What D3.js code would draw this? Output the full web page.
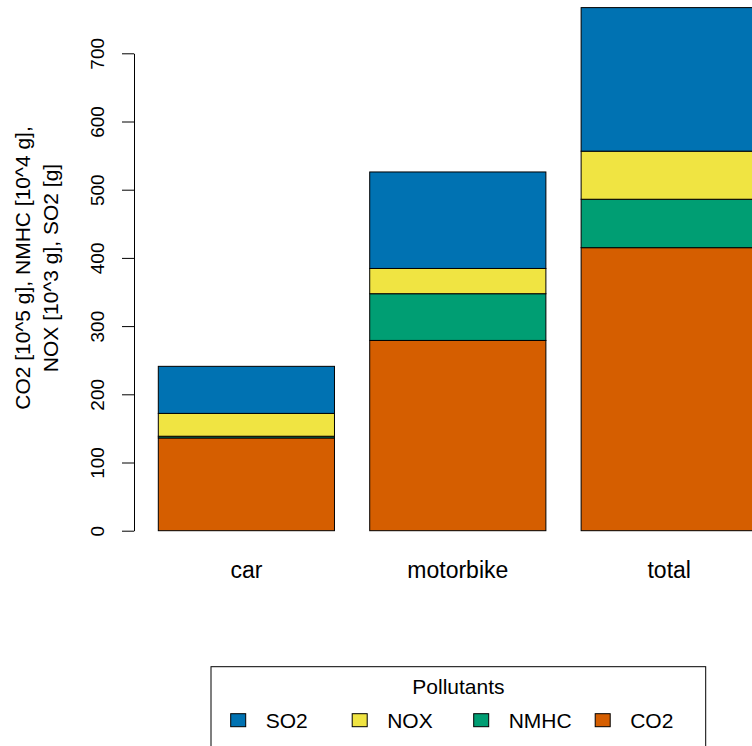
<!DOCTYPE html>
<html>
<head>
<meta charset="utf-8">
<script src="https://cdn.jsdelivr.net/npm/d3@7"></script>
<style>
  html, body { margin: 0; padding: 0; background: #ffffff; }
  svg { display: block; font-family: "Liberation Sans", Arial, Helvetica, sans-serif; }
</style>
</head>
<body>
<svg id="chart" width="752" height="746"></svg>
<script>
// Emissions per vehicle type, stacked by pollutant (bottom to top)
const categories = ["car", "motorbike", "total"];
const pollutants = ["CO2", "NMHC", "NOX", "SO2"];
const co2  = [136, 279, 415];
const nmhc = [2.5, 68.5, 71];
const nox  = [33.5, 37, 70.5];
const so2  = [69, 141.5, 210.5];
const yTicks = [0, 100, 200, 300, 400, 500, 600, 700];
const legendOrder = ["SO2", "NOX", "NMHC", "CO2"];
const colors = { CO2: "#D55E00", NMHC: "#009E73", NOX: "#F0E442", SO2: "#0072B2" };

const seriesValues = { CO2: co2, NMHC: nmhc, NOX: nox, SO2: so2 };
const rows = categories.map((c, i) => {
  const r = { category: c };
  pollutants.forEach(p => { r[p] = seriesValues[p][i]; });
  return r;
});

const svg = d3.select("#chart");

const x = d3.scaleBand()
  .domain(categories)
  .range([158.3, 757.3])
  .paddingInner(0.2 / 1.2)
  .paddingOuter(0);

const y = d3.scaleLinear()
  .domain([0, 700])
  .range([530.7, 53.3]);

const stacked = d3.stack().keys(pollutants)(rows);

// Bars
svg.append("g")
  .selectAll("g")
  .data(stacked)
  .join("g")
    .attr("fill", d => colors[d.key])
  .selectAll("rect")
  .data(d => d)
  .join("rect")
    .attr("x", d => x(d.data.category))
    .attr("width", x.bandwidth())
    .attr("y", d => y(d[1]))
    .attr("height", d => y(d[0]) - y(d[1]))
    .attr("stroke", "#000")
    .attr("stroke-width", 1);

// Y axis with vertical tick labels
const yAxis = svg.append("g")
  .attr("transform", "translate(134,0)")
  .call(d3.axisLeft(y).tickValues(yTicks).tickSize(12).tickSizeOuter(0).tickFormat(d3.format("d")));
yAxis.select(".domain").attr("stroke", "#000");
yAxis.selectAll(".tick line").attr("stroke", "#000");
yAxis.selectAll(".tick text")
  .attr("x", null)
  .attr("dy", null)
  .attr("fill", "#000")
  .attr("font-size", 19)
  .attr("font-family", "Liberation Sans, Arial, sans-serif")
  .attr("text-anchor", "middle")
  .attr("transform", "translate(-30,0) rotate(-90)");

// Category labels
svg.append("g")
  .selectAll("text")
  .data(categories)
  .join("text")
    .attr("x", d => x(d) + x.bandwidth() / 2)
    .attr("y", 578)
    .attr("text-anchor", "middle")
    .attr("font-size", 23)
    .attr("fill", "#000")
    .text(d => d);

// Y axis title (two lines)
const yTitle = ["CO2 [10^5 g], NMHC [10^4 g],", "NOX [10^3 g], SO2 [g]"];
svg.append("g")
  .selectAll("text")
  .data(yTitle)
  .join("text")
    .attr("transform", (d, i) => `translate(${29.5 + i * 28},268) rotate(-90)`)
    .attr("text-anchor", "middle")
    .attr("font-size", 21)
    .attr("fill", "#000")
    .text(d => d);

// Legend
const legend = svg.append("g");
legend.append("rect")
  .attr("x", 211)
  .attr("y", 666.7)
  .attr("width", 494.7)
  .attr("height", 120)
  .attr("fill", "none")
  .attr("stroke", "#000")
  .attr("stroke-width", 1);
legend.append("text")
  .attr("x", 458.4)
  .attr("y", 693.5)
  .attr("text-anchor", "middle")
  .attr("font-size", 21)
  .attr("fill", "#000")
  .text("Pollutants");

const item = legend.selectAll("g.item")
  .data(legendOrder)
  .join("g")
    .attr("class", "item")
    .attr("transform", (d, i) => `translate(${230.7 + i * 121.5},0)`);
item.append("rect")
  .attr("x", 0)
  .attr("y", 713.7)
  .attr("width", 15)
  .attr("height", 13)
  .attr("fill", d => colors[d])
  .attr("stroke", "#000")
  .attr("stroke-width", 1);
item.append("text")
  .attr("x", 35)
  .attr("y", 728)
  .attr("font-size", 21)
  .attr("fill", "#000")
  .text(d => d);
</script>
</body>
</html>
